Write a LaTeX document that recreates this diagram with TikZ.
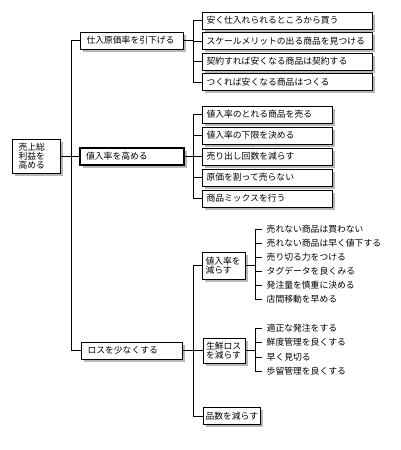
\documentclass[tikz,border=0pt]{standalone}
\usepackage{fontspec}
\newfontfamily\jp{Noto Sans CJK JP}
\usetikzlibrary{shadows}
\newcommand{\jpf}{\jp\fontsize{8.8}{9.6}\selectfont}
\newcommand{\jpr}{\jp\fontsize{8.8}{9}\selectfont}
\begin{document}
\begin{tikzpicture}[x=1pt,y=-1pt,
  box/.style={draw, fill=white, line width=1pt, anchor=west, align=left,
    inner ysep=0pt, minimum height=17pt, font=\jpf,
    drop shadow={shadow xshift=2.5pt, shadow yshift=-2.5pt, fill=black!28, opacity=1}},
  thickbox/.style={box, line width=2.2pt},
  item/.style={anchor=west, inner xsep=4.5pt, inner ysep=0pt, font=\jpf},
  conn/.style={line width=1pt}]
\useasboundingbox (0,0) rectangle (400,450);
% root
\node[box, font=\jpr, inner xsep=6pt, text width=36pt, minimum height=34pt] (root) at (12,156.5) {売上総\\利益を\\高める};
% level 1
\node[box, inner xsep=6pt, text width=91pt] (A) at (80,40.5) {仕入原価率を引下げる};
\node[thickbox, inner xsep=6pt, text width=92pt] (B) at (79,156.5) {値入率を高める};
\node[box, inner xsep=6pt, text width=89pt] (C) at (81,350.5) {ロスを少なくする};
% group A
\node[box, inner xsep=4pt, text width=162pt] (a1) at (202,20.5) {安く仕入れられるところから買う};
\node[box, inner xsep=4pt, text width=162pt] (a2) at (202,41) {スケールメリットの出る商品を見つける};
\node[box, inner xsep=4pt, text width=162pt] (a3) at (202,61.5) {契約すれば安くなる商品は契約する};
\node[box, inner xsep=4pt, text width=162pt] (a4) at (202,82) {つくれば安くなる商品はつくる};
% group B
\node[box, inner xsep=4pt, text width=122pt] (b1) at (202,114.5) {値入率のとれる商品を売る};
\node[box, inner xsep=4pt, text width=122pt] (b2) at (202,135.5) {値入率の下限を決める};
\node[box, inner xsep=4pt, text width=122pt] (b3) at (202,156.5) {売り出し回数を減らす};
\node[box, inner xsep=4pt, text width=122pt] (b4) at (202,177.5) {原価を割って売らない};
\node[box, inner xsep=4pt, text width=122pt] (b5) at (202,198.5) {商品ミックスを行う};
% group C
\node[box, inner xsep=3pt, text width=37pt, minimum height=27pt] (D) at (202,265.5) {値入率を\\減らす};
\node[box, inner xsep=2.5pt, text width=37pt, minimum height=25pt] (E) at (203,350.5) {生鮮ロス\\を減らす};
\node[box, inner xsep=2pt, text width=53pt] (F) at (203,416) {品数を減らす};
% items D
\node[item] (d1) at (262,229) {売れない商品は買わない};
\node[item] (d2) at (262,243) {売れない商品は早く値下する};
\node[item] (d3) at (262,257) {売り切る力をつける};
\node[item] (d4) at (262,271) {タグデータを良くみる};
\node[item] (d5) at (262,285) {発注量を慎重に決める};
\node[item] (d6) at (262,299) {店間移動を早める};
% items E
\node[item] (e1) at (262,328) {適正な発注をする};
\node[item] (e2) at (262,342.5) {鮮度管理を良くする};
\node[item] (e3) at (262,357) {早く見切る};
\node[item] (e4) at (262,371.5) {歩留管理を良くする};
% junction x positions
\coordinate (T) at (71,0);
\coordinate (J1) at (193,0);
\coordinate (J2) at (255,0);
% connectors
\draw[conn] (A.west) -- (A.west -| T) |- (C.west);
\draw[conn] (root.east) -- (B.west);
\draw[conn] (A.east) -- (A.east -| J1);
\draw[conn] (a1.west) -| (J1 |- a4.west) -- (a4.west);
\draw[conn] (a2.west) -- (a2.west -| J1);
\draw[conn] (a3.west) -- (a3.west -| J1);
\draw[conn] (B.east) -- (b3.west);
\draw[conn] (b1.west) -| (J1 |- b5.west) -- (b5.west);
\draw[conn] (b2.west) -- (b2.west -| J1);
\draw[conn] (b4.west) -- (b4.west -| J1);
\draw[conn] (C.east) -- (E.west);
\draw[conn] (D.west) -| (J1 |- F.west) -- (F.west);
\draw[conn] (D.east) -- (D.east -| J2);
\draw[conn] (d1.west) -| (J2 |- d6.west) -- (d6.west);
\draw[conn] (d2.west) -- (d2.west -| J2);
\draw[conn] (d3.west) -- (d3.west -| J2);
\draw[conn] (d4.west) -- (d4.west -| J2);
\draw[conn] (d5.west) -- (d5.west -| J2);
\draw[conn] (E.east) -- (E.east -| J2);
\draw[conn] (e1.west) -| (J2 |- e4.west) -- (e4.west);
\draw[conn] (e2.west) -- (e2.west -| J2);
\draw[conn] (e3.west) -- (e3.west -| J2);
\end{tikzpicture}
\end{document}
